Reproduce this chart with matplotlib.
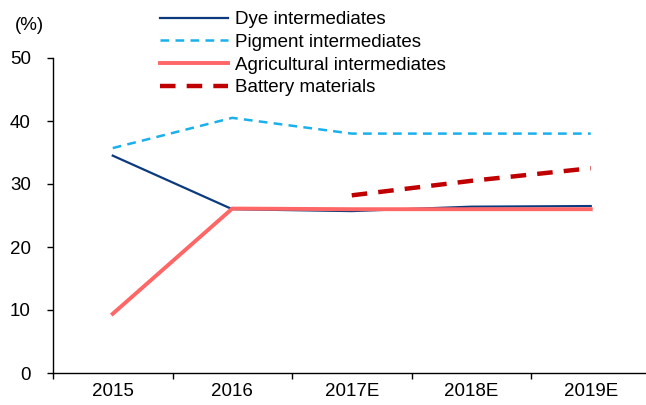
import matplotlib
matplotlib.use("Agg")
import matplotlib.pyplot as plt
import numpy as np

plt.rcParams['font.family'] = ['Liberation Sans', 'DejaVu Sans']

categories = ["2015", "2016", "2017E", "2018E", "2019E"]
dye = [34.5, 26.0, 25.7, 26.4, 26.5]
pigment = [35.7, 40.5, 38.0, 38.0, 38.0]
agri = [9.4, 26.1, 26.0, 26.0, 26.0]
battery = [np.nan, np.nan, 28.2, 30.5, 32.5]

FS = 13.5

fig = plt.figure(figsize=(6.46, 4.05), dpi=100)
ax = fig.add_axes([53/646, 1-373/405, 597.5/646, 315/405])
x = np.arange(len(categories))

l1, = ax.plot(x, dye, color='#0B3A7E', lw=1.6, label='Dye intermediates')
l2, = ax.plot(x, pigment, color='#1AB0EC', lw=1.8, ls=(0, (3.5, 2.5)), label='Pigment intermediates')
l3, = ax.plot(x, agri, color='#FF6666', lw=2.8, label='Agricultural intermediates')
l4, = ax.plot(x, battery, color='#C00000', lw=3.2, ls=(0, (3.5, 2.5)), label='Battery materials')

ax.set_xlim(-0.5, 4.5)
ax.set_ylim(0, 50)
ax.set_yticks([0, 10, 20, 30, 40, 50])
ax.set_xticks(x)
ax.set_xticklabels(categories)
ax.set_xticks(np.arange(-0.5, 4.6, 1), minor=True)
ax.tick_params(axis='x', which='major', length=0, pad=7, labelsize=FS)
ax.tick_params(axis='x', which='minor', length=4, direction='out', width=1)
ax.tick_params(axis='y', length=4, direction='out', width=1, labelsize=FS, pad=12)
for s in ['top', 'right']:
    ax.spines[s].set_visible(False)
for s in ['left', 'bottom']:
    ax.spines[s].set_linewidth(1)
    ax.spines[s].set_color('black')

fig.text(15/646, 1-26/405, '(%)', fontsize=FS, va='center', ha='left')

leg = fig.legend(handles=[l1, l2, l3, l4], loc='upper left',
                 bbox_to_anchor=(160/646, 1-11/405), frameon=False,
                 fontsize=FS, handlelength=3.6, handletextpad=0.4,
                 labelspacing=0.3, borderaxespad=0, borderpad=0)

fig.savefig('out.png', dpi=100)
